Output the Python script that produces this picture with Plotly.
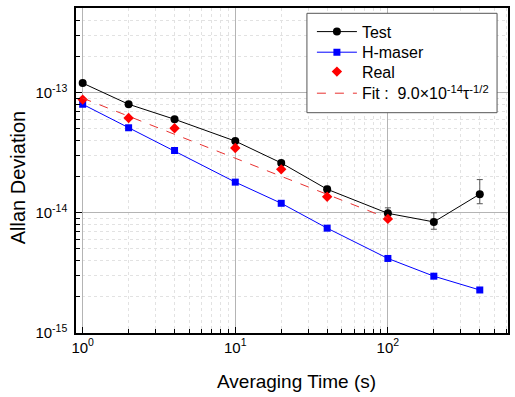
import plotly.graph_objects as go

tau = [1, 2, 4, 10, 20, 40, 100, 200, 400]
test_adev = [1.2e-13, 8.0e-14, 6.0e-14, 3.95e-14, 2.6e-14, 1.57e-14, 9.9e-15, 8.4e-15, 1.43e-14]
test_err_plus = [0, 0, 0, 0, 1.2e-15, 0.9e-15, 1.1e-15, 1.6e-15, 4.6e-15]
test_err_minus = [0, 0, 0, 0, 1.2e-15, 0.9e-15, 1.1e-15, 1.1e-15, 2.4e-15]
hmaser_adev = [8.0e-14, 5.1e-14, 3.3e-14, 1.8e-14, 1.2e-14, 7.45e-15, 4.17e-15, 2.97e-15, 2.28e-15]
real_tau = [1, 2, 4, 10, 20, 40, 100]
real_adev = [8.75e-14, 6.15e-14, 5.05e-14, 3.46e-14, 2.3e-14, 1.36e-14, 8.9e-15]
fit_tau = [1, 100]
fit_adev = [9.0e-14, 9.0e-15]

series_names = ["Test", "H-maser", "Real", "Fit :\u00a0 9.0×10<sup>-14</sup>τ<sup>-1/2</sup>"]
x_title = "Averaging Time (s)"
y_title = "Allan Deviation"
x_tickvals = [1, 10, 100]
x_ticktext = ["10<sup>0</sup>", "10<sup>1</sup>", "10<sup>2</sup>"]
y_tickvals = [1e-15, 1e-14, 1e-13]
y_ticktext = ["10<sup>-15</sup>", "10<sup>-14</sup>", "10<sup>-13</sup>"]

FONT = "Arial, 'Liberation Sans', sans-serif"
W, H = 515, 397
ML, MR, MT, MB = 76, 5, 8, 64
PW, PH = W - ML - MR, H - MT - MB


def px_x(p):
    return (p - ML) / PW


def px_y(p):
    return (H - MB - p) / PH


x_minor = [m * d for d in (1, 10, 100) for m in range(2, 10)]
y_minor = [m * d for d in (1e-15, 1e-14, 1e-13) for m in range(2, 10)]

fig = go.Figure()
fig.add_trace(go.Scatter(
    x=tau, y=test_adev, name=series_names[0], mode="lines+markers",
    line=dict(color="black", width=1),
    marker=dict(symbol="circle", size=8, color="black"),
    error_y=dict(type="data", array=test_err_plus, arrayminus=test_err_minus,
                 color="#555555", thickness=1, width=3),
    legend="legend",
))
fig.add_trace(go.Scatter(
    x=tau, y=hmaser_adev, name=series_names[1], mode="lines+markers",
    line=dict(color="#0000ff", width=1),
    marker=dict(symbol="square", size=7, color="#0000ff"),
    legend="legend2",
))
fig.add_trace(go.Scatter(
    x=real_tau, y=real_adev, name=series_names[2], mode="markers",
    marker=dict(symbol="diamond", size=8, color="#ff0000"),
    legend="legend3",
))
fig.add_trace(go.Scatter(
    x=fit_tau, y=fit_adev, name=series_names[3],
    mode="lines", line=dict(color="#e8302f", width=1, dash="dash"),
    legend="legend4",
))

leg_common = dict(
    xanchor="left", yanchor="middle",
    borderwidth=0, bgcolor="rgba(0,0,0,0)",
    font=dict(size=16, family=FONT), itemwidth=40,
)
leg_x = px_x(313)
leg_rows = [31.7, 52.3, 71.7, 93.3]

fig.update_layout(
    width=W, height=H,
    margin=dict(l=ML, r=MR, t=MT, b=MB),
    paper_bgcolor="white", plot_bgcolor="white",
    font=dict(family=FONT, color="black", size=16),
    showlegend=True,
    legend=dict(x=leg_x, y=px_y(leg_rows[0]), **leg_common),
    legend2=dict(x=leg_x, y=px_y(leg_rows[1]), **leg_common),
    legend3=dict(x=leg_x, y=px_y(leg_rows[2]), **leg_common),
    legend4=dict(x=leg_x, y=px_y(leg_rows[3]), **leg_common),
    shapes=[dict(
        type="rect", xref="paper", yref="paper",
        x0=px_x(308), x1=px_x(499), y0=px_y(112.7), y1=px_y(13.3),
        line=dict(color="#555555", width=1), fillcolor="white", layer="above",
    )],
    annotations=[
        dict(text=x_title, xref="paper", yref="paper", x=px_x(298), y=px_y(381.5),
             xanchor="center", yanchor="middle", showarrow=False,
             font=dict(size=19, family=FONT, color="black")),
        dict(text=y_title, xref="paper", yref="paper", x=px_x(18), y=px_y(178),
             xanchor="center", yanchor="middle", showarrow=False, textangle=-90,
             font=dict(size=20, family=FONT, color="black")),
    ],
)
fig.update_xaxes(
    type="log", range=[-0.0437, 2.787],
    tickvals=x_tickvals, ticktext=x_ticktext,
    ticks="inside", ticklen=6, tickcolor="black",
    tickfont=dict(size=15, family=FONT),
    showline=True, linecolor="black", linewidth=1.5, mirror=True,
    showgrid=True, gridcolor="#b4b4b4", gridwidth=1,
    minor=dict(tickvals=x_minor, ticks="inside", ticklen=4, tickcolor="black",
               showgrid=True, gridcolor="#e2e2e2", griddash="dot", gridwidth=1),
    zeroline=False,
)
fig.update_yaxes(
    type="log", range=[-15.0, -12.296],
    tickvals=y_tickvals, ticktext=y_ticktext,
    ticks="inside", ticklen=6, tickcolor="black",
    tickfont=dict(size=15, family=FONT), ticklabelstandoff=4,
    showline=True, linecolor="black", linewidth=1.5, mirror=True,
    showgrid=True, gridcolor="#b4b4b4", gridwidth=1,
    minor=dict(tickvals=y_minor, ticks="inside", ticklen=4, tickcolor="black",
               showgrid=True, gridcolor="#e2e2e2", griddash="dot", gridwidth=1),
    zeroline=False,
)

fig.write_html("out.html")
